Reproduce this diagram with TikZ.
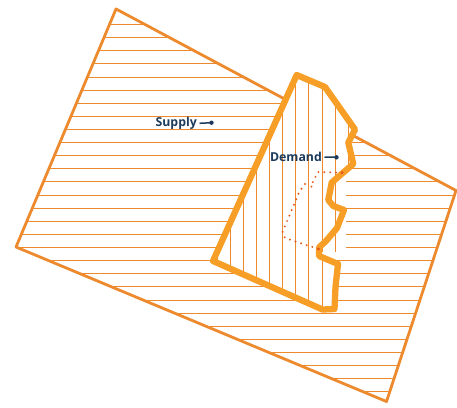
\documentclass[tikz,border=0pt]{standalone}
\usepackage{fontspec}
\setmainfont{Open Sans}
\usetikzlibrary{arrows.meta}
\definecolor{supplyorange}{HTML}{EE8A2E}
\definecolor{demandorange}{HTML}{F79E27}
\definecolor{dotred}{HTML}{E85A1C}
\definecolor{labelnavy}{HTML}{1B3A5C}

% contour of the demand area
\def\demandline{(296.7,75) -- (325,87) -- (355,129.5) -- (348.3,142.5) -- (353.3,164)
  -- (343.3,172.5) -- (331.7,182.5) -- (328.3,200) -- (333.3,206) -- (344,210)
  -- (337,228) -- (326,241) -- (319,247.5) -- (319,256) -- (338,264) -- (335.5,287)
  -- (334.5,309) -- (322.5,309.5) -- (213,261) -- cycle}
% part of the notches kept in the vertical hatching
\def\notchbox{(300,138) rectangle (346,251)}

\begin{document}
\begin{tikzpicture}[x=1pt, y=-1pt, line join=round,
    hatch/.style={supplyorange, line width=0.9pt},
    dotline/.style={dotred, line width=2.2pt, line cap=round, dash pattern=on 0pt off 5.9pt},
    label/.style={labelnavy, font=\bfseries\fontsize{12.3}{14}\selectfont, inner sep=1pt},
    pointer/.style={labelnavy, line width=1.5pt}]
    \useasboundingbox (0,0) rectangle (457,407);

    % Offre : quadrilatere a hachures horizontales
    \coordinate (ST) at (116,9);
    \coordinate (SR) at (456,190.5);
    \coordinate (SB) at (386.5,401.5);
    \coordinate (SL) at (16,247);
    \begin{scope}
        \clip (ST) -- (SR) -- (SB) -- (SL) -- cycle;
        \foreach \y in {24.5,37.62,...,393} {
            \draw[hatch] (0,\y) -- (457,\y);
        }
    \end{scope}
    \draw[supplyorange, line width=2.8pt] (ST) -- (SR) -- (SB) -- (SL) -- cycle;

    % Demande : zone a hachures verticales
    \fill[white] \demandline;
    \fill[white] \notchbox;
    \begin{scope}
        \clip \demandline;
        \foreach \x in {217,230.12,...,350} {
            \draw[hatch] (\x,60) -- (\x,320);
        }
    \end{scope}
    \begin{scope}
        \clip \notchbox;
        \foreach \x in {217,230.12,...,350} {
            \draw[hatch] (\x,60) -- (\x,320);
        }
    \end{scope}
    \draw[demandorange, line width=6.3pt] \demandline;

    % Ligne pointillee
    \draw[dotline] (342,172.7) -- (318,172) -- (310.5,186.5) -- (314,187);
    \draw[dotline] (305,184) -- (299.5,191.5) -- (282.5,232) -- (285,238) -- (318.5,249);
    \fill[dotred] (342,172.7) circle (1.7);
    \fill[dotred] (318.5,249) circle (1.7);

    % Etiquettes
    \node[label, anchor=east] (supply) at (198,123.3) {Supply};
    \coordinate (supplyDot) at (211.5,122.7);
    \draw[pointer] ([xshift=1.5pt]supply.east) -- (supplyDot);
    \fill[labelnavy] (supplyDot) circle (2.2);

    \node[label, anchor=east] (demand) at (323,157) {Demand};
    \coordinate (demandDot) at (336.5,157.3);
    \draw[pointer] ([xshift=1.5pt]demand.east) -- (demandDot);
    \fill[labelnavy] (demandDot) circle (2.2);
\end{tikzpicture}
\end{document}
